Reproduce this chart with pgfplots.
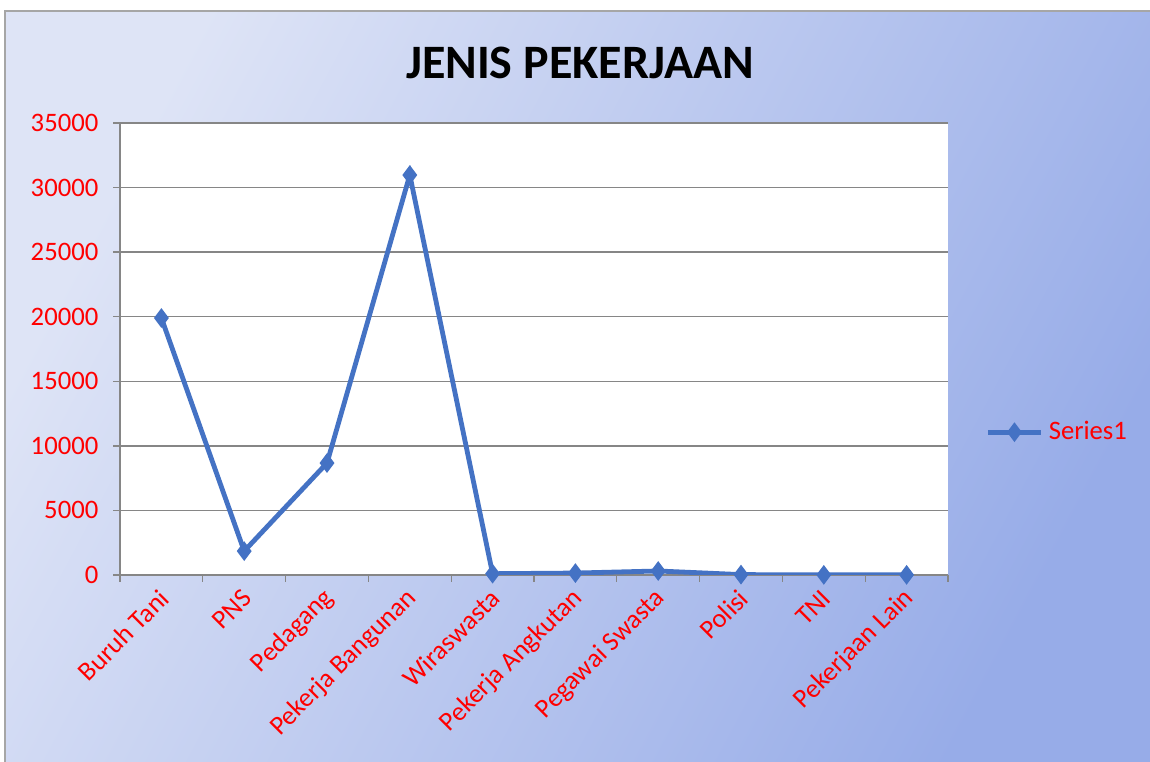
\documentclass[border=0pt]{standalone}
\usepackage{pgfplots}
\pgfplotsset{compat=1.18}
\usepackage{fontspec}
\setmainfont{Carlito}
\definecolor{lineblue}{HTML}{4472C4}
\definecolor{gridgray}{HTML}{868686}
\definecolor{bgA}{HTML}{DEE4F6}
\definecolor{bgB}{HTML}{97ACE8}
\begin{document}
\begin{tikzpicture}
\useasboundingbox (0,0) rectangle (431.25pt,285.75pt);
\fill[white] (0,0) rectangle (431.25pt,285.75pt);
\shade[left color=bgA, right color=bgB, shading angle=62] (1.875pt,0) rectangle (431.25pt,281.6pt);
\draw[gray!70, line width=0.6pt] (1.875pt,-2pt) -- (1.875pt,281.6pt) -- (440pt,281.6pt);
\node[font=\fontsize{18}{21}\selectfont\bfseries] at (217.5pt,262.1pt) {JENIS PEKERJAAN};
\begin{axis}[
  at={(45pt,70.125pt)}, anchor=south west,
  scale only axis, width=310.5pt, height=169.5pt,
  xmin=0.5, xmax=10.5, ymin=0, ymax=35000,
  axis background/.style={fill=white},
  axis lines*=left,
  axis line style={gridgray, line width=0.5pt, -},
  ytick={0,5000,...,35000},
  scaled y ticks=false,
  ymajorgrids, major grid style={gridgray, line width=0.5pt},
  xtick={1,...,10},
  minor xtick={0.5,1.5,...,10.5},
  xticklabels={Buruh Tani,PNS,Pedagang,Pekerja Bangunan,Wiraswasta,Pekerja Angkutan,Pegawai Swasta,Polisi,TNI,Pekerjaan Lain},
  major x tick style={draw=none},
  minor x tick style={gridgray, line width=0.5pt},
  major y tick style={gridgray, line width=0.5pt},
  tick align=outside,
  major tick length=2.6pt, minor tick length=2.6pt,
  /pgf/number format/assume math mode=true,
  /pgf/number format/set thousands separator={},
  tick label style={font=\fontsize{10}{12}\selectfont, text=red},
  xticklabel style={rotate=45, anchor=east, xshift=1pt, yshift=-4pt},
  yticklabel style={xshift=-2pt},
  legend style={at={(1.035,0.316)}, anchor=west, draw=none, fill=none, font=\fontsize{10}{12}\selectfont, text=red},
  legend image code/.code={\draw[#1, mark repeat=2, mark phase=2] plot coordinates {(0cm,0cm)(0.35cm,0cm)(0.7cm,0cm)};},
]
\addplot[lineblue, line width=1.8pt, mark=diamond*, mark size=3.3pt, mark options={fill=lineblue, draw=lineblue, line width=0.5pt}] coordinates {
(1,19900) (2,1850) (3,8670) (4,30970) (5,100) (6,150) (7,310) (8,30) (9,10) (10,10)
};
\addlegendentry{Series1}
\end{axis}
\end{tikzpicture}
\end{document}
